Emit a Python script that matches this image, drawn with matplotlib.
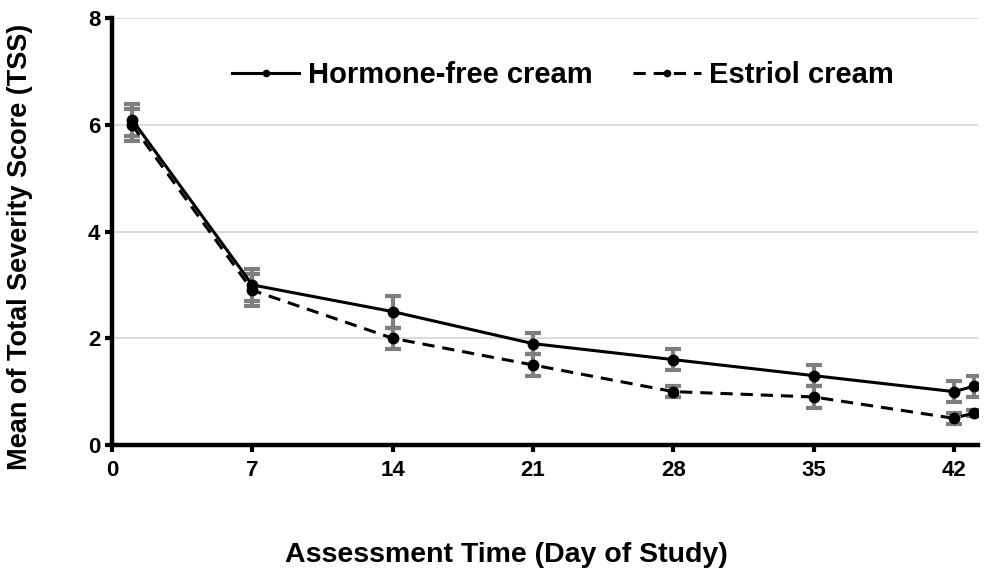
import matplotlib
matplotlib.use("Agg")
import matplotlib.pyplot as plt
from matplotlib.lines import Line2D

plt.rcParams['font.family'] = ['Liberation Sans', 'DejaVu Sans']
plt.rcParams['font.weight'] = 'bold'

# data
days = [1, 7, 14, 21, 28, 35, 42, 43]
hormone_free = [6.1, 3.0, 2.5, 1.9, 1.6, 1.3, 1.0, 1.1]
hormone_free_err = [0.3, 0.3, 0.3, 0.2, 0.2, 0.2, 0.2, 0.2]
estriol = [6.0, 2.9, 2.0, 1.5, 1.0, 0.9, 0.5, 0.6]
estriol_err = [0.3, 0.3, 0.2, 0.2, 0.1, 0.2, 0.1, 0.05]
x_ticks = [0, 7, 14, 21, 28, 35, 42]
y_ticks = [0, 2, 4, 6, 8]

fig = plt.figure(figsize=(9.84, 5.69), dpi=100)
ax = fig.add_axes([0.1138, 0.218, 0.880, 0.75])

dash = (0, (4, 2.6))
err_style = dict(ecolor='#7f7f7f', elinewidth=3, capsize=6, capthick=3)
ax.errorbar(days, hormone_free, yerr=hormone_free_err, color='black', lw=2.2,
            marker='o', ms=7.5, **err_style)
ax.errorbar(days, estriol, yerr=estriol_err, color='black', lw=2.2, ls=dash,
            marker='o', ms=7.5, **err_style)

ax.set_xlim(0, 43.2)
ax.set_ylim(0, 8)
ax.set_xticks(x_ticks)
ax.set_yticks(y_ticks)
ax.tick_params(axis='both', labelsize=16, width=3, length=5, direction='out')
ax.tick_params(axis='x', pad=6)
ax.grid(axis='y', color='#d9d9d9', lw=1.3)
ax.set_axisbelow(True)
for s in ['top', 'right']:
    ax.spines[s].set_visible(False)
for s in ['left', 'bottom']:
    ax.spines[s].set_linewidth(3.2)

ax.set_ylabel('Mean of Total Severity Score (TSS)', fontsize=19.5, fontweight='bold')
ax.set_xlabel('Assessment Time (Day of Study)', fontsize=20.5, fontweight='bold')
ax.yaxis.set_label_coords(-0.091, 0.465)
ax.xaxis.set_label_coords(0.455, -0.228)

handles = [Line2D([], [], color='black', lw=2.2, marker='o', ms=4.5),
           Line2D([], [], color='black', lw=2.2, ls=dash, marker='o', ms=4.5)]
labels = ['Hormone-free cream', 'Estriol cream']
ax.legend(handles, labels, loc='center', bbox_to_anchor=(0.521, 0.867), ncol=2,
          frameon=False, fontsize=21, handlelength=2.3, columnspacing=1.4,
          handletextpad=0.3, borderpad=0)

fig.savefig('out.png', dpi=100)
